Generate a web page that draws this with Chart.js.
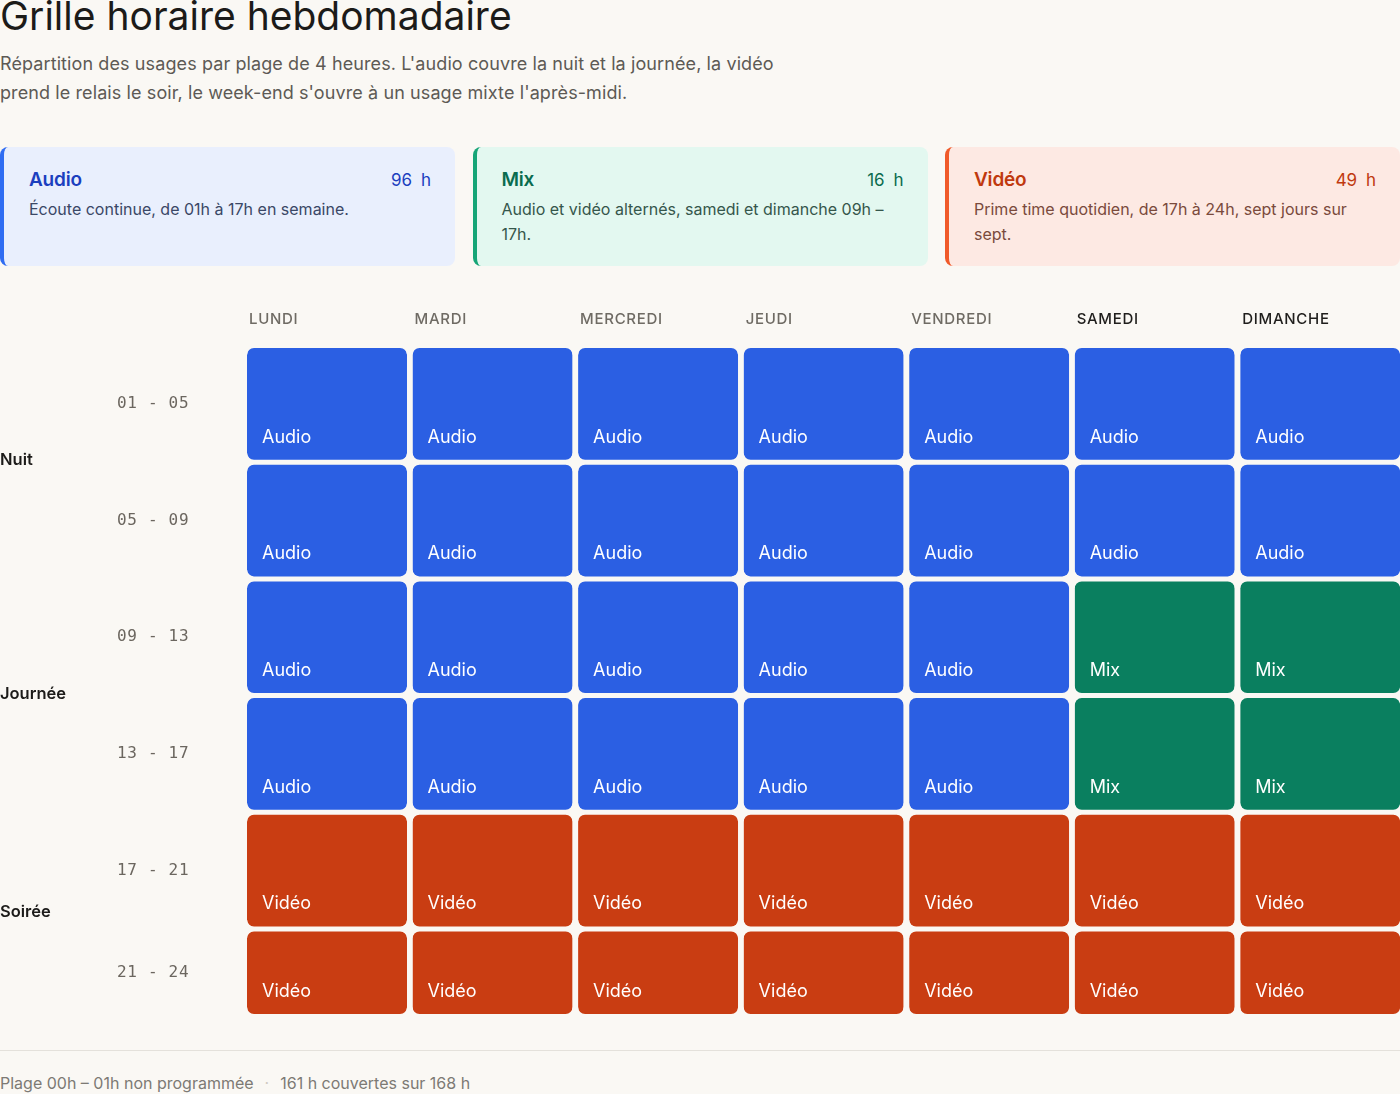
<!DOCTYPE html>
<html lang="fr">
<head>
<meta charset="utf-8">
<title>Grille horaire hebdomadaire</title>
<script src="https://cdn.jsdelivr.net/npm/chart.js@4.4.1/dist/chart.umd.min.js"></script>
<style>
  html, body { margin: 0; padding: 0; }
  body {
    width: 1400px; height: 1094px; overflow: hidden; position: relative;
    background: #faf8f4; font-family: Inter, "Noto Sans", sans-serif; color: #1c1b19;
  }
  h1 {
    position: absolute; left: 0; top: -6px; margin: 0;
    font-size: 39px; line-height: 44px; font-weight: 400; letter-spacing: 0; color: #1c1b19;
  }
  .sub {
    position: absolute; left: 0; top: 49px; margin: 0;
    font-size: 18px; line-height: 29px; color: #5d5a55; letter-spacing: 0.1px;
  }
  .cards { position: absolute; left: 0; top: 147px; width: 1400px; height: 119px; }
  .card {
    position: absolute; top: 0; width: 455px; height: 119px; box-sizing: border-box;
    border-radius: 8px; border-left: 4px solid; padding: 21px 24px 0 25px;
  }
  .card__head { display: flex; justify-content: space-between; align-items: baseline; }
  .card__title { font-size: 19px; font-weight: 600; letter-spacing: -0.2px; }
  .card__hours { font-size: 17px; word-spacing: 4px; }
  .card__desc { margin-top: 6px; font-size: 16px; line-height: 25px; letter-spacing: 0; }
  #grid { position: absolute; left: 0; top: 290px; }
  .rule { position: absolute; left: 0; top: 1050px; width: 1400px; height: 1px; background: #e4e1db; }
  .foot {
    position: absolute; left: 0; top: 1073px; font-size: 16px; color: #7d7a74; letter-spacing: 0;
  }
  .foot .dot { color: #cfcac2; margin: 0 11px; }
</style>
</head>
<body>
<h1>Grille horaire hebdomadaire</h1>
<p class="sub">Répartition des usages par plage de 4 heures. L'audio couvre la nuit et la journée, la vidéo<br>prend le relais le soir, le week-end s'ouvre à un usage mixte l'après-midi.</p>
<div class="cards" id="cards"></div>
<canvas id="grid" width="1403" height="730" style="width:1403px;height:730px"></canvas>
<div class="rule"></div>
<div class="foot">Plage 00h – 01h non programmée<span class="dot">·</span>161 h couvertes sur 168 h</div>
<script>
// Weekly schedule grid: one floating bar per (day, 4-hour slot), coloured by usage.

const days = ["Lundi", "Mardi", "Mercredi", "Jeudi", "Vendredi", "Samedi", "Dimanche"];
const weekend = ["Samedi", "Dimanche"];

const slotStart = [1, 5, 9, 13, 17, 21];
const slotEnd = [5, 9, 13, 17, 21, 24];
const slotLabels = ["01 - 05", "05 - 09", "09 - 13", "13 - 17", "17 - 21", "21 - 24"];

const groups = ["Nuit", "Journée", "Soirée"];
const groupStart = [1, 9, 17];
const groupEnd = [9, 17, 24];

// usage per slot, Monday → Sunday
const usage0105 = ["Audio", "Audio", "Audio", "Audio", "Audio", "Audio", "Audio"];
const usage0509 = ["Audio", "Audio", "Audio", "Audio", "Audio", "Audio", "Audio"];
const usage0913 = ["Audio", "Audio", "Audio", "Audio", "Audio", "Mix", "Mix"];
const usage1317 = ["Audio", "Audio", "Audio", "Audio", "Audio", "Mix", "Mix"];
const usage1721 = ["Vidéo", "Vidéo", "Vidéo", "Vidéo", "Vidéo", "Vidéo", "Vidéo"];
const usage2124 = ["Vidéo", "Vidéo", "Vidéo", "Vidéo", "Vidéo", "Vidéo", "Vidéo"];
const usageBySlot = [usage0105, usage0509, usage0913, usage1317, usage1721, usage2124];

// summary cards
const categories = ["Audio", "Mix", "Vidéo"];
const categoryHours = [96, 16, 49];
const categoryNotes = [
  "Écoute continue, de 01h à 17h en semaine.",
  "Audio et vidéo alternés, samedi et dimanche 09h –<br>17h.",
  "Prime time quotidien, de 17h à 24h, sept jours sur<br>sept.",
];

const palette = {
  Audio: { cell: "#2b5fe3", card: "#e9effd", edge: "#2f6cf2", ink: "#1c3fbf", text: "#3a4766" },
  Mix:   { cell: "#0a7f5f", card: "#e3f8f0", edge: "#16a577", ink: "#0a6c4f", text: "#35564b" },
  Vidéo: { cell: "#c93d12", card: "#fde9e3", edge: "#f05a2a", ink: "#c0390f", text: "#7a4a3c" },
};

// cards
const cardsHost = document.getElementById("cards");
cardsHost.innerHTML = categories.map((c, i) => {
  const p = palette[c];
  return `<div class="card" style="left:${i * 472.5}px;background:${p.card};border-left-color:${p.edge}">
    <div class="card__head"><span class="card__title" style="color:${p.ink}">${c}</span>
    <span class="card__hours" style="color:${p.ink}">${categoryHours[i]} h</span></div>
    <div class="card__desc" style="color:${p.text}">${categoryNotes[i]}</div></div>`;
}).join("");

const FONT = "Inter, 'Noto Sans', sans-serif";

const datasets = usageBySlot.map((row, s) => ({
  label: slotLabels[s],
  data: days.map(() => [slotStart[s], slotEnd[s]]),
  usage: row,
  backgroundColor: row.map((u) => palette[u].cell),
  borderColor: "rgba(0,0,0,0)",
  borderWidth: { top: 2.5, bottom: 2.5, left: 0, right: 0 },
  borderSkipped: false,
  borderRadius: 9.5,
  grouped: false,
  barPercentage: 160 / 165.5,
  categoryPercentage: 1,
}));

const cellText = {
  id: "cellText",
  beforeDraw(chart) { chart.ctx.letterSpacing = "0.7px"; },
  beforeDatasetsDraw(chart) { chart.ctx.letterSpacing = "0px"; },
  afterDatasetsDraw(chart) {
    const ctx = chart.ctx;
    ctx.save();
    ctx.letterSpacing = "0px";
    ctx.font = `400 18px ${FONT}`;
    ctx.fillStyle = "#ffffff";
    ctx.textAlign = "left";
    ctx.textBaseline = "alphabetic";
    chart.data.datasets.forEach((ds, di) => {
      chart.getDatasetMeta(di).data.forEach((bar, i) => {
        const left = bar.x - bar.width / 2;
        const bottom = Math.max(bar.y, bar.base) - 2.5;
        ctx.fillText(ds.usage[i], left + 15, bottom - 17);
      });
    });
    // period groups on the far left
    const y = chart.scales.y;
    ctx.font = `600 16.5px ${FONT}`;
    ctx.fillStyle = "#1c1b19";
    ctx.textBaseline = "middle";
    groups.forEach((g, i) => {
      const mid = (y.getPixelForValue(groupStart[i]) + y.getPixelForValue(groupEnd[i])) / 2;
      ctx.fillText(g, 0, mid - 2);
    });
    ctx.restore();
  },
};

new Chart(document.getElementById("grid"), {
  type: "bar",
  data: { labels: days.map((d) => d.toUpperCase()), datasets },
  plugins: [cellText],
  options: {
    responsive: false,
    animation: false,
    layout: { padding: { top: 0, bottom: 3.5, left: 0, right: 0 } },
    plugins: { legend: { display: false }, tooltip: { enabled: false } },
    scales: {
      x: {
        position: "top",
        grid: { display: false, drawTicks: false },
        border: { display: false },
        afterFit: (s) => { s.height = 55.5; s.paddingLeft = 0; s.paddingRight = 0; },
        ticks: {
          align: "start",
          labelOffset: -78,
          padding: 17,
          maxRotation: 0,
          autoSkip: false,
          font: { family: FONT, size: 15, weight: 500 },
          color: (ctx) => (weekend.includes(days[ctx.index]) ? "#1f1e1c" : "#6f6b64"),
        },
      },
      y: {
        z: 1,
        reverse: true,
        min: 1,
        max: 24,
        grid: { display: false, drawTicks: false },
        border: { display: false },
        afterFit: (s) => { s.width = 244.25; s.paddingTop = 0; s.paddingBottom = 0; },
        afterBuildTicks: (s) => { s.ticks = slotStart.map((v, i) => ({ value: (v + slotEnd[i]) / 2 })); },
        ticks: {
          padding: 55,
          font: { family: "'DejaVu Sans Mono', monospace", size: 16 },
          color: "#6b665f",
          callback: (v, i) => slotLabels[i],
        },
      },
    },
  },
});
</script>
</body>
</html>
